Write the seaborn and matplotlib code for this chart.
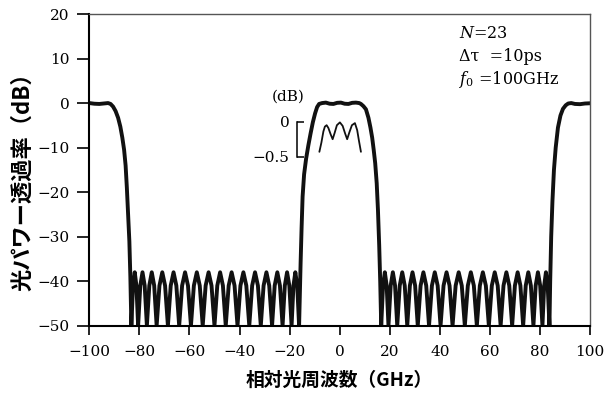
import numpy as np
import pandas as pd
import matplotlib
matplotlib.use("Agg")
import matplotlib.pyplot as plt
import seaborn as sns

# ---------------- data ----------------
# pass band centred at -100 GHz and its falling edge
left_band_ghz = [-100.0, -98.0, -96.0, -94.0, -92.5, -91.5, -90.5, -89.5, -88.5,
                 -87.6, -86.8, -86.1, -85.5, -85.0, -84.5, -84.0, -83.6]
left_band_db = [0.0, -0.15, -0.2, -0.1, 0.0, -0.2, -0.8, -1.8, -3.3,
                -5.3, -7.8, -10.5, -14.0, -19.0, -25.0, -31.0, -39.0]

# stop band side lobes between -83 and -16 GHz (null, shoulder, peak, shoulder)
left_stop_ghz = [
    -83.2, -82.53, -81.85, -81.18,
    -80.5, -79.63, -78.75, -77.88,
    -77.0, -76.03, -75.05, -74.08,
    -73.1, -71.98, -70.85, -69.73,
    -68.6, -67.48, -66.35, -65.23,
    -64.1, -62.93, -61.75, -60.58,
    -59.4, -58.23, -57.05, -55.88,
    -54.7, -53.53, -52.35, -51.18,
    -50.0, -48.88, -47.75, -46.63,
    -45.5, -44.33, -43.15, -41.98,
    -40.8, -39.63, -38.45, -37.28,
    -36.1, -34.95, -33.8, -32.65,
    -31.5, -30.38, -29.25, -28.13,
    -27.0, -25.95, -24.9, -23.85,
    -22.8, -21.9, -21.0, -20.1,
    -19.2, -18.45, -17.7, -16.95]
left_stop_db = [
    -50, -41, -38, -41,
    -50, -41, -38, -41,
    -50, -41, -38, -41,
    -50, -41, -38, -41,
    -50, -41, -38, -41,
    -50, -41, -38, -41,
    -50, -41, -38, -41,
    -50, -41, -38, -41,
    -50, -41, -38, -41,
    -50, -41, -38, -41,
    -50, -41, -38, -41,
    -50, -41, -38, -41,
    -50, -41, -38, -41,
    -50, -41, -38, -41,
    -50, -41, -38, -41,
    -50, -41, -38, -41]

# central pass band
center_band_ghz = [-16.2, -15.9, -15.6, -15.2, -14.8, -14.2, -13.4, -12.5, -11.6,
                   -10.7, -9.8, -9.0, -8.2, -7.0, -5.5, -4.0, -2.5, -1.0, 0.5,
                   2.0, 3.5, 5.0, 6.5, 7.8, 8.5, 9.5, 10.5, 11.5, 12.3, 13.0,
                   13.6, 14.2, 14.8, 15.3, 15.8, 16.2]
center_band_db = [-50, -43, -36, -28, -21, -16, -12.5, -9.5, -6.8,
                  -4.3, -2.3, -0.9, -0.2, 0.0, 0.1, -0.15, -0.2, 0.05, 0.1,
                  -0.15, -0.2, 0.05, 0.1, 0.0, -0.2, -0.7, -1.4, -3.3, -5.5, -7.8,
                  -10.5, -13.5, -18.0, -24.0, -32.0, -40.0]

# stop band side lobes between 16 and 84 GHz
right_stop_ghz = [
    16.6, 17.33, 18.05, 18.78,
    19.5, 20.38, 21.25, 22.13,
    23.0, 24.0, 25.0, 26.0,
    27.0, 28.05, 29.1, 30.15,
    31.2, 32.33, 33.45, 34.58,
    35.7, 36.85, 38.0, 39.15,
    40.3, 41.5, 42.7, 43.9,
    45.1, 46.33, 47.55, 48.78,
    50.0, 51.2, 52.4, 53.6,
    54.8, 56.0, 57.2, 58.4,
    59.6, 60.78, 61.95, 63.13,
    64.3, 65.45, 66.6, 67.75,
    68.9, 70.0, 71.1, 72.2,
    73.3, 74.33, 75.35, 76.38,
    77.4, 78.3, 79.2, 80.1,
    81.0, 81.7, 82.4, 83.1]
right_stop_db = [
    -50, -41, -38, -41,
    -50, -41, -38, -41,
    -50, -41, -38, -41,
    -50, -41, -38, -41,
    -50, -41, -38, -41,
    -50, -41, -38, -41,
    -50, -41, -38, -41,
    -50, -41, -38, -41,
    -50, -41, -38, -41,
    -50, -41, -38, -41,
    -50, -41, -38, -41,
    -50, -41, -38, -41,
    -50, -41, -38, -41,
    -50, -41, -38, -41,
    -50, -41, -38, -41,
    -50, -41, -38, -41]

# pass band centred at +100 GHz and its rising edge
right_band_ghz = [83.8, 84.1, 84.5, 85.0, 85.6, 86.3, 87.2, 88.2, 89.2, 90.3,
                  91.3, 92.5, 94.0, 96.0, 98.0, 100.0]
right_band_db = [-50, -40, -30, -22, -15, -10, -5.5, -2.8, -1.3, -0.5,
                 -0.1, 0.0, -0.2, -0.25, -0.1, -0.05]

# magnified pass-band ripple (inset, 0 .. -0.5 dB)
inset_ghz = [-8.1, -7.3, -6.5, -5.9, -5.2, -4.5, -3.6, -2.8, -2.0, -1.1, 0.1,
             1.2, 2.2, 3.0, 3.9, 4.9, 6.1, 7.0, 7.7, 8.5]
inset_db = [-0.43, -0.30, -0.14, -0.07, -0.05, -0.09, -0.18, -0.25, -0.16, -0.05, -0.01,
            -0.06, -0.17, -0.25, -0.15, -0.05, -0.02, -0.12, -0.27, -0.43]
inset_ticks = [0, -0.5]
inset_ticklabels = ["0", "\u22120.5"]

x_ticks = [-100, -80, -60, -40, -20, 0, 20, 40, 60, 80, 100]
y_ticks = [20, 10, 0, -10, -20, -30, -40, -50]

xlabel = "相対光周波数（GHz）"
ylabel = "光パワー透過率（dB）"

# ---------------- style ----------------
sns.set_theme(style="ticks")
plt.rcParams["font.family"] = ["DejaVu Serif"]
plt.rcParams["mathtext.fontset"] = "dejavuserif"
plt.rcParams["text.color"] = "black"
plt.rcParams["axes.labelcolor"] = "black"
plt.rcParams["xtick.color"] = "black"
plt.rcParams["ytick.color"] = "black"
cjk = ["Noto Sans CJK JP", "DejaVu Sans"]

W, H = 611, 396
fig = plt.figure(figsize=(W / 100, H / 100), dpi=100)
fig.patch.set_facecolor("white")

ax_l, ax_r, ax_t, ax_b = 89.3, 590.0, 14.0, 325.7
ax = fig.add_axes([ax_l / W, (H - ax_b) / H, (ax_r - ax_l) / W, (ax_b - ax_t) / H])

df = pd.DataFrame({
    "ghz": np.concatenate([left_band_ghz, left_stop_ghz, center_band_ghz,
                           right_stop_ghz, right_band_ghz]),
    "db": np.concatenate([left_band_db, left_stop_db, center_band_db,
                          right_stop_db, right_band_db]),
})
sns.lineplot(data=df, x="ghz", y="db", ax=ax, estimator=None, sort=False,
             color="#111111", linewidth=2.8)
for ln in ax.lines:
    ln.set_solid_joinstyle("round")

ax.set_xlim(-100, 100)
ax.set_ylim(-50, 20)
ax.set_xticks(x_ticks)
ax.set_yticks(y_ticks)
ax.tick_params(axis="both", direction="out", width=1.2, colors="black", labelsize=11)
ax.tick_params(axis="x", length=6.5, pad=7.5)
ax.tick_params(axis="y", length=9, pad=5)
for s in ["top", "right"]:
    ax.spines[s].set_visible(True)
    ax.spines[s].set_color("#555555")
    ax.spines[s].set_linewidth(1.0)
for s in ["left", "bottom"]:
    ax.spines[s].set_color("black")
    ax.spines[s].set_linewidth(1.5)

ax.set_xlabel(xlabel, fontfamily=cjk, fontsize=13.5, fontweight="bold")
ax.set_ylabel(ylabel, fontfamily=cjk, fontsize=16, fontweight="bold")
ax.xaxis.set_label_coords(0.5, -0.145)
ax.yaxis.set_label_coords(-0.11, 0.48)

# parameter text
fig.text(459 / W, 1 - 33 / H, "$N$=23", ha="left", va="center", fontsize=11.5)
fig.text(459 / W, 1 - 56.7 / H, "Δτ  =10ps", ha="left", va="center", fontsize=11.5)
fig.text(459 / W, 1 - 80 / H, "$f_0$ =100GHz", ha="left", va="center", fontsize=11.5)

# inset: magnified pass-band ripple
ins_top, ins_bot = 121.7, 156.7
ins = fig.add_axes([ax_l / W, (H - ins_bot) / H, (ax_r - ax_l) / W, (ins_bot - ins_top) / H])
ins.patch.set_alpha(0)
sns.lineplot(x=inset_ghz, y=inset_db, ax=ins, estimator=None, sort=False,
             color="#111111", linewidth=1.3)
for ln in ins.lines:
    ln.set_clip_on(False)
ins.set_xlim(-100, 100)
ins.set_ylim(-0.5, 0)
for s in ["top", "right", "bottom"]:
    ins.spines[s].set_visible(False)
ins.spines["left"].set_position(("data", -17.2))
ins.spines["left"].set_bounds(-0.5, 0)
ins.spines["left"].set_color("black")
ins.spines["left"].set_linewidth(1.1)
ins.set_xticks([])
ins.set_yticks(inset_ticks)
ins.set_yticklabels(inset_ticklabels)
ins.tick_params(axis="y", direction="in", length=5, width=1.1, labelsize=11, pad=5,
                colors="black")
ins.set_xlabel("")
ins.set_ylabel("")
fig.text(288 / W, 1 - 96.7 / H, "(dB)", ha="center", va="center", fontsize=11)

fig.savefig("out.png", dpi=100, facecolor="white")
